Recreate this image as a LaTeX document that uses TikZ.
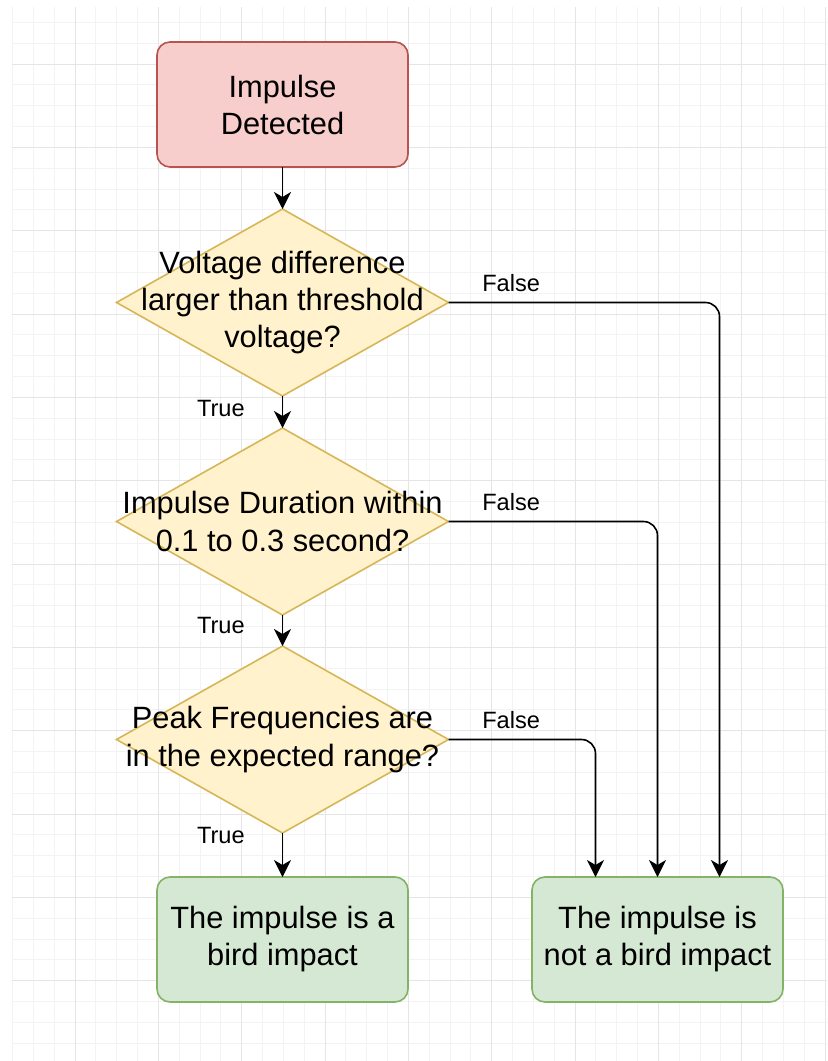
\documentclass[tikz,border=0pt]{standalone}
\usepackage{fontspec}
\setmainfont{Liberation Sans}
\usepackage{xcolor}
\usepackage{tikz}
\usetikzlibrary{shapes,arrows.meta,positioning,calc}

\definecolor{startfill}{HTML}{F8CECC}
\definecolor{startline}{HTML}{B85450}
\definecolor{testfill}{HTML}{FFF2CC}
\definecolor{testline}{HTML}{D6B656}
\definecolor{endfill}{HTML}{D5E8D4}
\definecolor{endline}{HTML}{82B366}
\definecolor{gridminor}{HTML}{F3F3F3}
\definecolor{gridmajor}{HTML}{E5E5E5}

\tikzset{
  box/.style={rectangle, rounded corners=6.5pt, draw, minimum width=125.5pt, minimum height=62.5pt, inner sep=0pt, outer sep=0pt, align=center, font=\fontsize{15.4}{18.5}\selectfont},
  startbox/.style={box, fill=startfill, draw=startline},
  endbox/.style={box, fill=endfill, draw=endline},
  test/.style={diamond, draw=testline, fill=testfill, minimum width=166pt, minimum height=93.5pt, inner sep=0pt, outer sep=0pt},
  testtext/.style={align=center, inner sep=0pt, font=\fontsize{15.4}{18.7}\selectfont},
  truelbl/.style={anchor=base east, xshift=-18.5pt, inner sep=0pt, font=\fontsize{11.8}{14}\selectfont},
  falselbl/.style={at start, anchor=base west, xshift=16.5pt, yshift=5.5pt, inner sep=0pt, font=\fontsize{11.8}{14}\selectfont},
}

\begin{document}
\begin{tikzpicture}[node distance=16pt, thick, >={Stealth[length=8.5pt, width=8.5pt, inset=2.5pt]}]
    \fill[white] (0,0) rectangle (413.5pt,-530.5pt);
    \useasboundingbox (0,0) rectangle (413.5pt,-530.5pt);
    % background grid
    \draw[gridminor, line width=0.5pt, step=10.4167pt, shift={(6.3pt,-0.75pt)}] (-0.3pt,-529.75pt) grid (407.2pt,-2.75pt);
    \draw[gridmajor, line width=0.5pt, step=41.667pt, shift={(37.55pt,-32pt)}] (-31.55pt,-498.5pt) grid (375.95pt,28.5pt);

    \node (start) [startbox] at (141.25pt,-52.25pt) {Impulse\\Detected};
    \node (volt) [test, below=21pt of start, label={[testtext]center:{Voltage difference\\larger than threshold\\voltage?}}] {};
    \node (dur) [test, below=of volt, label={[testtext]center:{Impulse Duration within\\0.1 to 0.3 second?}}] {};
    \node (freq) [test, below=15.5pt of dur, label={[testtext]center:{Peak Frequencies are\\in the expected range?}}] {};
    \node (bird) [endbox, below=22pt of freq] {The impulse is a\\bird impact};
    \node (nobird) [endbox, right=62pt of bird] {The impulse is\\not a bird impact};

    \draw [->] (start) -- (volt);
    \draw [->] (volt) -- node[truelbl, pos=0.65] {True} (dur);
    \draw [->] (dur) -- node[truelbl, pos=0.6] {True} (freq);
    \draw [->] (freq) -- node[truelbl, pos=0.23] {True} (bird);

    \draw [->, rounded corners=7pt] (volt.east) -| node[falselbl] {False} ([xshift=31pt]nobird.north);
    \draw [->, rounded corners=7pt] (dur.east) -| node[falselbl] {False} (nobird.north);
    \draw [->, rounded corners=7pt] (freq.east) -| node[falselbl] {False} ([xshift=-31pt]nobird.north);
\end{tikzpicture}
\end{document}
